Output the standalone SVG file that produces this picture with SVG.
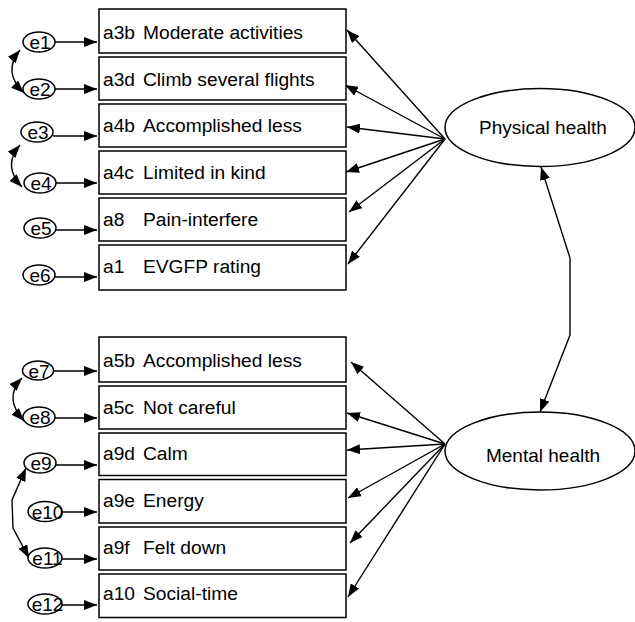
<svg xmlns="http://www.w3.org/2000/svg" width="635" height="622" viewBox="0 0 635 622">
<style>
.box{fill:#fff;stroke:#000;stroke-width:1.5}
.ell{fill:#fff;stroke:#000;stroke-width:1.5}
.t{font-family:"Liberation Sans",Arial,sans-serif;font-size:19.2px;fill:#000}
.te{font-family:"Liberation Sans",Arial,sans-serif;font-size:19px;fill:#000;text-anchor:middle}
.c{fill:none;stroke:#000;stroke-width:1.4}
.a{marker-end:url(#ah)}
.d{marker-start:url(#ah);marker-end:url(#ah)}
</style>
<defs>
<marker id="ah" markerUnits="userSpaceOnUse" markerWidth="13" markerHeight="10" refX="13" refY="5" orient="auto-start-reverse" viewBox="0 0 13 10">
<path d="M0,0 L13,5 L0,10 z" fill="#000"/>
</marker>
</defs>
<rect width="635" height="622" fill="#fff"/>

<g id="connectors">
<line class="c a" x1="55" y1="42" x2="97" y2="42"/>
<line class="c a" x1="55" y1="89" x2="97" y2="89"/>
<line class="c a" x1="53" y1="136" x2="97" y2="136"/>
<line class="c a" x1="55" y1="183" x2="97" y2="183"/>
<line class="c a" x1="55" y1="230" x2="97" y2="230"/>
<line class="c a" x1="54" y1="277" x2="97" y2="277"/>
<line class="c a" x1="53" y1="371" x2="97" y2="371"/>
<line class="c a" x1="55" y1="418" x2="97" y2="418"/>
<line class="c a" x1="54" y1="465" x2="97" y2="465"/>
<line class="c a" x1="62" y1="512" x2="97" y2="512"/>
<line class="c a" x1="62" y1="559" x2="97" y2="559"/>
<line class="c a" x1="62" y1="605" x2="97" y2="605"/>
<path class="c d" d="M20,50 Q2,72 24,93"/>
<path class="c d" d="M20,145 Q2,166 22,187"/>
<path class="c d" d="M22,378 Q3,398 24,421"/>
<path class="c d" d="M26,468 L12,500 L13,528 L29,558"/>
<line class="c a" x1="445" y1="139" x2="347" y2="30"/>
<line class="c a" x1="445" y1="139" x2="345" y2="85"/>
<line class="c a" x1="445" y1="139" x2="347" y2="127"/>
<line class="c a" x1="445" y1="139" x2="346" y2="172"/>
<line class="c a" x1="445" y1="139" x2="349" y2="212"/>
<line class="c a" x1="445" y1="139" x2="348" y2="264"/>
<line class="c a" x1="445" y1="444" x2="351" y2="362"/>
<line class="c a" x1="445" y1="444" x2="347" y2="413"/>
<line class="c a" x1="445" y1="444" x2="347" y2="450"/>
<line class="c a" x1="445" y1="444" x2="348" y2="498"/>
<line class="c a" x1="445" y1="444" x2="350" y2="543"/>
<line class="c a" x1="445" y1="444" x2="348" y2="597"/>
<path class="c d" d="M541,167 L570,258 L570,335 L540,412"/>
</g>

<g id="box-a3b"><rect class="box" x="99" y="9" width="247" height="44"/><text class="t" x="103" y="39">a3b</text><text class="t" x="143" y="39">Moderate activities</text></g>
<g id="box-a3d"><rect class="box" x="99" y="57" width="247" height="43"/><text class="t" x="103" y="85.5">a3d</text><text class="t" x="143" y="85.5">Climb several flights</text></g>
<g id="box-a4b"><rect class="box" x="99" y="104" width="247" height="43"/><text class="t" x="103" y="132">a4b</text><text class="t" x="143" y="132">Accomplished less</text></g>
<g id="box-a4c"><rect class="box" x="99" y="151" width="247" height="43"/><text class="t" x="103" y="179">a4c</text><text class="t" x="143" y="179">Limited in kind</text></g>
<g id="box-a8"><rect class="box" x="99" y="198" width="247" height="43"/><text class="t" x="103" y="226">a8</text><text class="t" x="143" y="226">Pain-interfere</text></g>
<g id="box-a1"><rect class="box" x="99" y="245" width="247" height="45"/><text class="t" x="103" y="273">a1</text><text class="t" x="143" y="273">EVGFP rating</text></g>

<g id="box-a5b"><rect class="box" x="99" y="337" width="247" height="45"/><text class="t" x="103" y="367">a5b</text><text class="t" x="143" y="367">Accomplished less</text></g>
<g id="box-a5c"><rect class="box" x="99" y="386" width="247" height="43"/><text class="t" x="103" y="414">a5c</text><text class="t" x="143" y="414">Not careful</text></g>
<g id="box-a9d"><rect class="box" x="99" y="433" width="247" height="42.5"/><text class="t" x="103" y="460">a9d</text><text class="t" x="143" y="460">Calm</text></g>
<g id="box-a9e"><rect class="box" x="99" y="479.5" width="247" height="43.5"/><text class="t" x="103" y="507">a9e</text><text class="t" x="143" y="507">Energy</text></g>
<g id="box-a9f"><rect class="box" x="99" y="527" width="247" height="43"/><text class="t" x="103" y="554">a9f</text><text class="t" x="143" y="554">Felt down</text></g>
<g id="box-a10"><rect class="box" x="99" y="574" width="247" height="43.5"/><text class="t" x="103" y="600">a10</text><text class="t" x="143" y="600">Social-time</text></g>

<g id="e1"><ellipse class="ell" cx="39" cy="42" rx="16" ry="10"/><text class="te" x="40" y="49">e1</text></g>
<g id="e2"><ellipse class="ell" cx="39" cy="89" rx="16" ry="10"/><text class="te" x="40" y="96">e2</text></g>
<g id="e3"><ellipse class="ell" cx="37" cy="132" rx="16" ry="10"/><text class="te" x="38" y="139">e3</text></g>
<g id="e4"><ellipse class="ell" cx="40" cy="183" rx="16" ry="10"/><text class="te" x="41" y="190">e4</text></g>
<g id="e5"><ellipse class="ell" cx="40" cy="228" rx="16" ry="10"/><text class="te" x="41" y="235">e5</text></g>
<g id="e6"><ellipse class="ell" cx="39" cy="275" rx="16" ry="10"/><text class="te" x="40" y="282">e6</text></g>
<g id="e7"><ellipse class="ell" cx="38" cy="370.5" rx="15.5" ry="9.5"/><text class="te" x="39" y="377.5">e7</text></g>
<g id="e8"><ellipse class="ell" cx="39" cy="417" rx="16" ry="10"/><text class="te" x="40" y="424">e8</text></g>
<g id="e9"><ellipse class="ell" cx="40" cy="463" rx="16" ry="10"/><text class="te" x="41" y="470">e9</text></g>
<g id="e10"><ellipse class="ell" cx="45" cy="511.5" rx="17" ry="10"/><text class="te" x="47.5" y="518.5">e10</text></g>
<g id="e11"><ellipse class="ell" cx="45" cy="558" rx="17" ry="10"/><text class="te" x="47.5" y="565">e11</text></g>
<g id="e12"><ellipse class="ell" cx="45" cy="604" rx="17" ry="10"/><text class="te" x="47.5" y="611">e12</text></g>

<g id="physical-health"><ellipse class="ell" cx="540" cy="127.5" rx="95" ry="39"/><text class="te" x="543" y="134">Physical health</text></g>
<g id="mental-health"><ellipse class="ell" cx="540" cy="451" rx="95" ry="39"/><text class="te" x="543" y="462">Mental health</text></g>
</svg>
